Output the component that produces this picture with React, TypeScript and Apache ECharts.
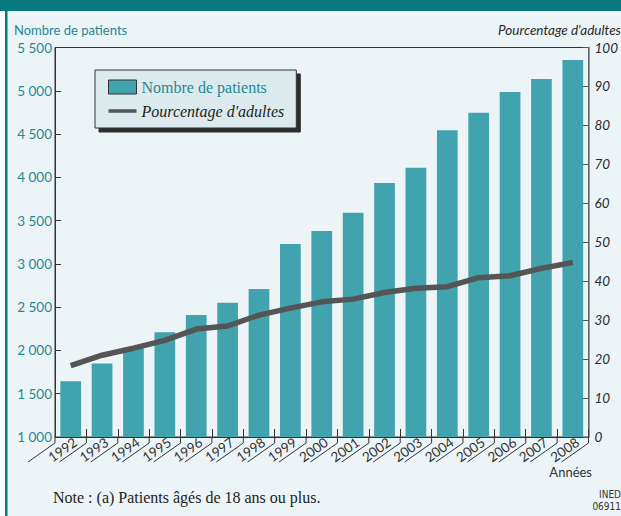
import React, { useEffect, useRef } from "react";
import * as echarts from "echarts";

const years = ["1992","1993","1994","1995","1996","1997","1998","1999","2000","2001","2002","2003","2004","2005","2006","2007","2008"];
const patients = [1645, 1850, 2030, 2210, 2410, 2550, 2710, 3230, 3380, 3590, 3935, 4110, 4545, 4745, 4985, 5135, 5355];
const adultPct = [18.3, 21, 22.8, 24.8, 27.7, 28.5, 31.3, 33.1, 34.7, 35.4, 37.1, 38.2, 38.6, 40.9, 41.4, 43.3, 44.8];
const leftTicks = { min: 1000, max: 5500, interval: 500 };
const rightTicks = { min: 0, max: 100, interval: 10 };

const TEAL = "#41A3AE";
const TEAL_TXT = "#1F8891";
const SANS = "Lato, 'Open Sans', sans-serif";
const SERIF = "'Liberation Serif', 'DejaVu Serif', serif";

const fmt = (v: number) => String(v).replace(/\B(?=(\d{3})+(?!\d))/g, " ");

export default function App() {
  const ref = useRef<HTMLDivElement>(null);
  useEffect(() => {
    if (!ref.current) return;
    const chart = echarts.init(ref.current, undefined, { renderer: "svg" });
    const option: any = {
      animation: false,
      backgroundColor: "#ECF4F7",
      graphic: [
        { type: "rect", z: -10, left: 0, top: 0, shape: { width: 5, height: 516 }, style: { fill: "#FFFFFF" } },
        { type: "rect", z: -10, left: 0, top: 0, shape: { width: 621, height: 11 }, style: { fill: "#077A81" } },
        { type: "rect", z: -10, left: 5, top: 11, shape: { width: 2.5, height: 505 }, style: { fill: "#077A81" } },
        { type: "text", left: 14, top: 23, style: { text: "Nombre de patients", fill: TEAL_TXT, font: `13px ${SANS}` } },
        { type: "text", right: 0, top: 23, style: { text: "Pourcentage d'adultes", fill: "#2A2A2A", font: `italic 13.5px ${SANS}` } },
        { type: "text", right: 29, top: 465, style: { text: "Années", fill: "#333", font: `13px ${SANS}` } },
        { type: "text", left: 53, top: 489, style: { text: "Note : (a) Patients âgés de 18 ans ou plus.", fill: "#222", font: `16px ${SERIF}` } },
        { type: "text", right: 0, top: 489, style: { text: "INED", fill: "#333", font: `10px 'DejaVu Sans Condensed', 'DejaVu Sans', sans-serif` } },
        { type: "text", right: 0, top: 501, style: { text: "06911", fill: "#333", font: `10px 'DejaVu Sans Condensed', 'DejaVu Sans', sans-serif` } },
      ],
      grid: {
        left: 55, right: 29, top: 47.5, bottom: 79,
        show: true, borderColor: "#333", borderWidth: 1, backgroundColor: "transparent",
      },
      legend: {
        orient: "vertical",
        left: 95, top: 70,
        itemWidth: 28, itemHeight: 14, itemGap: 8,
        padding: [9, 12, 9, 13],
        backgroundColor: "#DCEAEE",
        borderColor: "#333", borderWidth: 1,
        shadowColor: "rgba(20,20,20,0.9)", shadowBlur: 1, shadowOffsetX: 4, shadowOffsetY: 4,
        textStyle: { fontFamily: SERIF, fontSize: 16 },
        data: [
          { name: "Nombre de patients", icon: "rect", itemStyle: { color: TEAL, borderColor: "#333", borderWidth: 1 }, textStyle: { color: TEAL_TXT, fontFamily: SERIF, fontSize: 16 } },
          { name: "Pourcentage d'adultes", icon: "path://M0,0H32V4H0Z", itemStyle: { color: "#555" }, textStyle: { color: "#222", fontStyle: "italic", fontFamily: SERIF, fontSize: 16 } },
        ],
      },
      xAxis: {
        type: "category",
        data: years,
        axisLine: { lineStyle: { color: "#333", width: 1 } },
        axisTick: { show: true, inside: true, length: 8, lineStyle: { color: "#333" } },
        axisLabel: {
          rotate: 35, align: "center", verticalAlign: "middle", margin: 7,
          padding: [0, 20, 0, 0],
          color: "#333", fontFamily: SANS, fontSize: 13.5, interval: 0,
        },
      },
      yAxis: [
        {
          type: "value", ...leftTicks,
          splitLine: { show: false },
          axisLine: { show: true, lineStyle: { color: "#333" } },
          axisTick: { show: true, inside: true, length: 6, lineStyle: { color: "#333" } },
          axisLabel: { color: TEAL_TXT, fontFamily: SANS, fontSize: 13.5, margin: 3, formatter: fmt },
        },
        {
          type: "value", ...rightTicks,
          position: "right",
          splitLine: { show: false },
          axisLine: { show: true, lineStyle: { color: "#777", width: 1.5 } },
          axisTick: { show: true, inside: true, length: 6, lineStyle: { color: "#555" } },
          axisLabel: { color: "#2A2A2A", fontFamily: SANS, fontStyle: "italic", fontSize: 13.5, margin: 6 },
        },
      ],
      series: [
        {
          name: "Nombre de patients",
          type: "bar",
          data: patients,
          yAxisIndex: 0,
          barCategoryGap: "34%",
          itemStyle: { color: TEAL },
          z: 2,
        },
        {
          name: "Pourcentage d'adultes",
          type: "line",
          data: adultPct,
          yAxisIndex: 1,
          symbol: "none",
          itemStyle: { color: "#555" },
          lineStyle: { color: "#555", width: 5.5 },
          z: 3,
        },
        {
          name: "slants",
          type: "custom",
          yAxisIndex: 0,
          silent: true,
          clip: false,
          data: years.map((_, i) => [i, leftTicks.min]),
          encode: { x: 0, y: 1 },
          renderItem: (params: any, api: any) => {
            const i = api.value(0);
            const c = api.coord([i, api.value(1)]);
            const band = api.size([1, 0])[0];
            const xs = [c[0] + band / 2];
            if (i === 0) xs.push(c[0] - band / 2);
            const y0 = c[1];
            const children: any[] = [];
            xs.forEach((x) => {
              children.push({ type: "line", shape: { x1: x, y1: y0, x2: x, y2: y0 + 6 }, style: { stroke: "#333", lineWidth: 1 } });
              children.push({ type: "line", shape: { x1: x, y1: y0 + 6, x2: x - 27, y2: y0 + 25 }, style: { stroke: "#333", lineWidth: 1 } });
            });
            return { type: "group", children };
          },
          z: 4,
        },
      ],
    };
    chart.setOption(option);
    return () => chart.dispose();
  }, []);
  return <div ref={ref} style={{ position: "fixed", left: 0, top: 0, width: 621, height: 516 }} />;
}
